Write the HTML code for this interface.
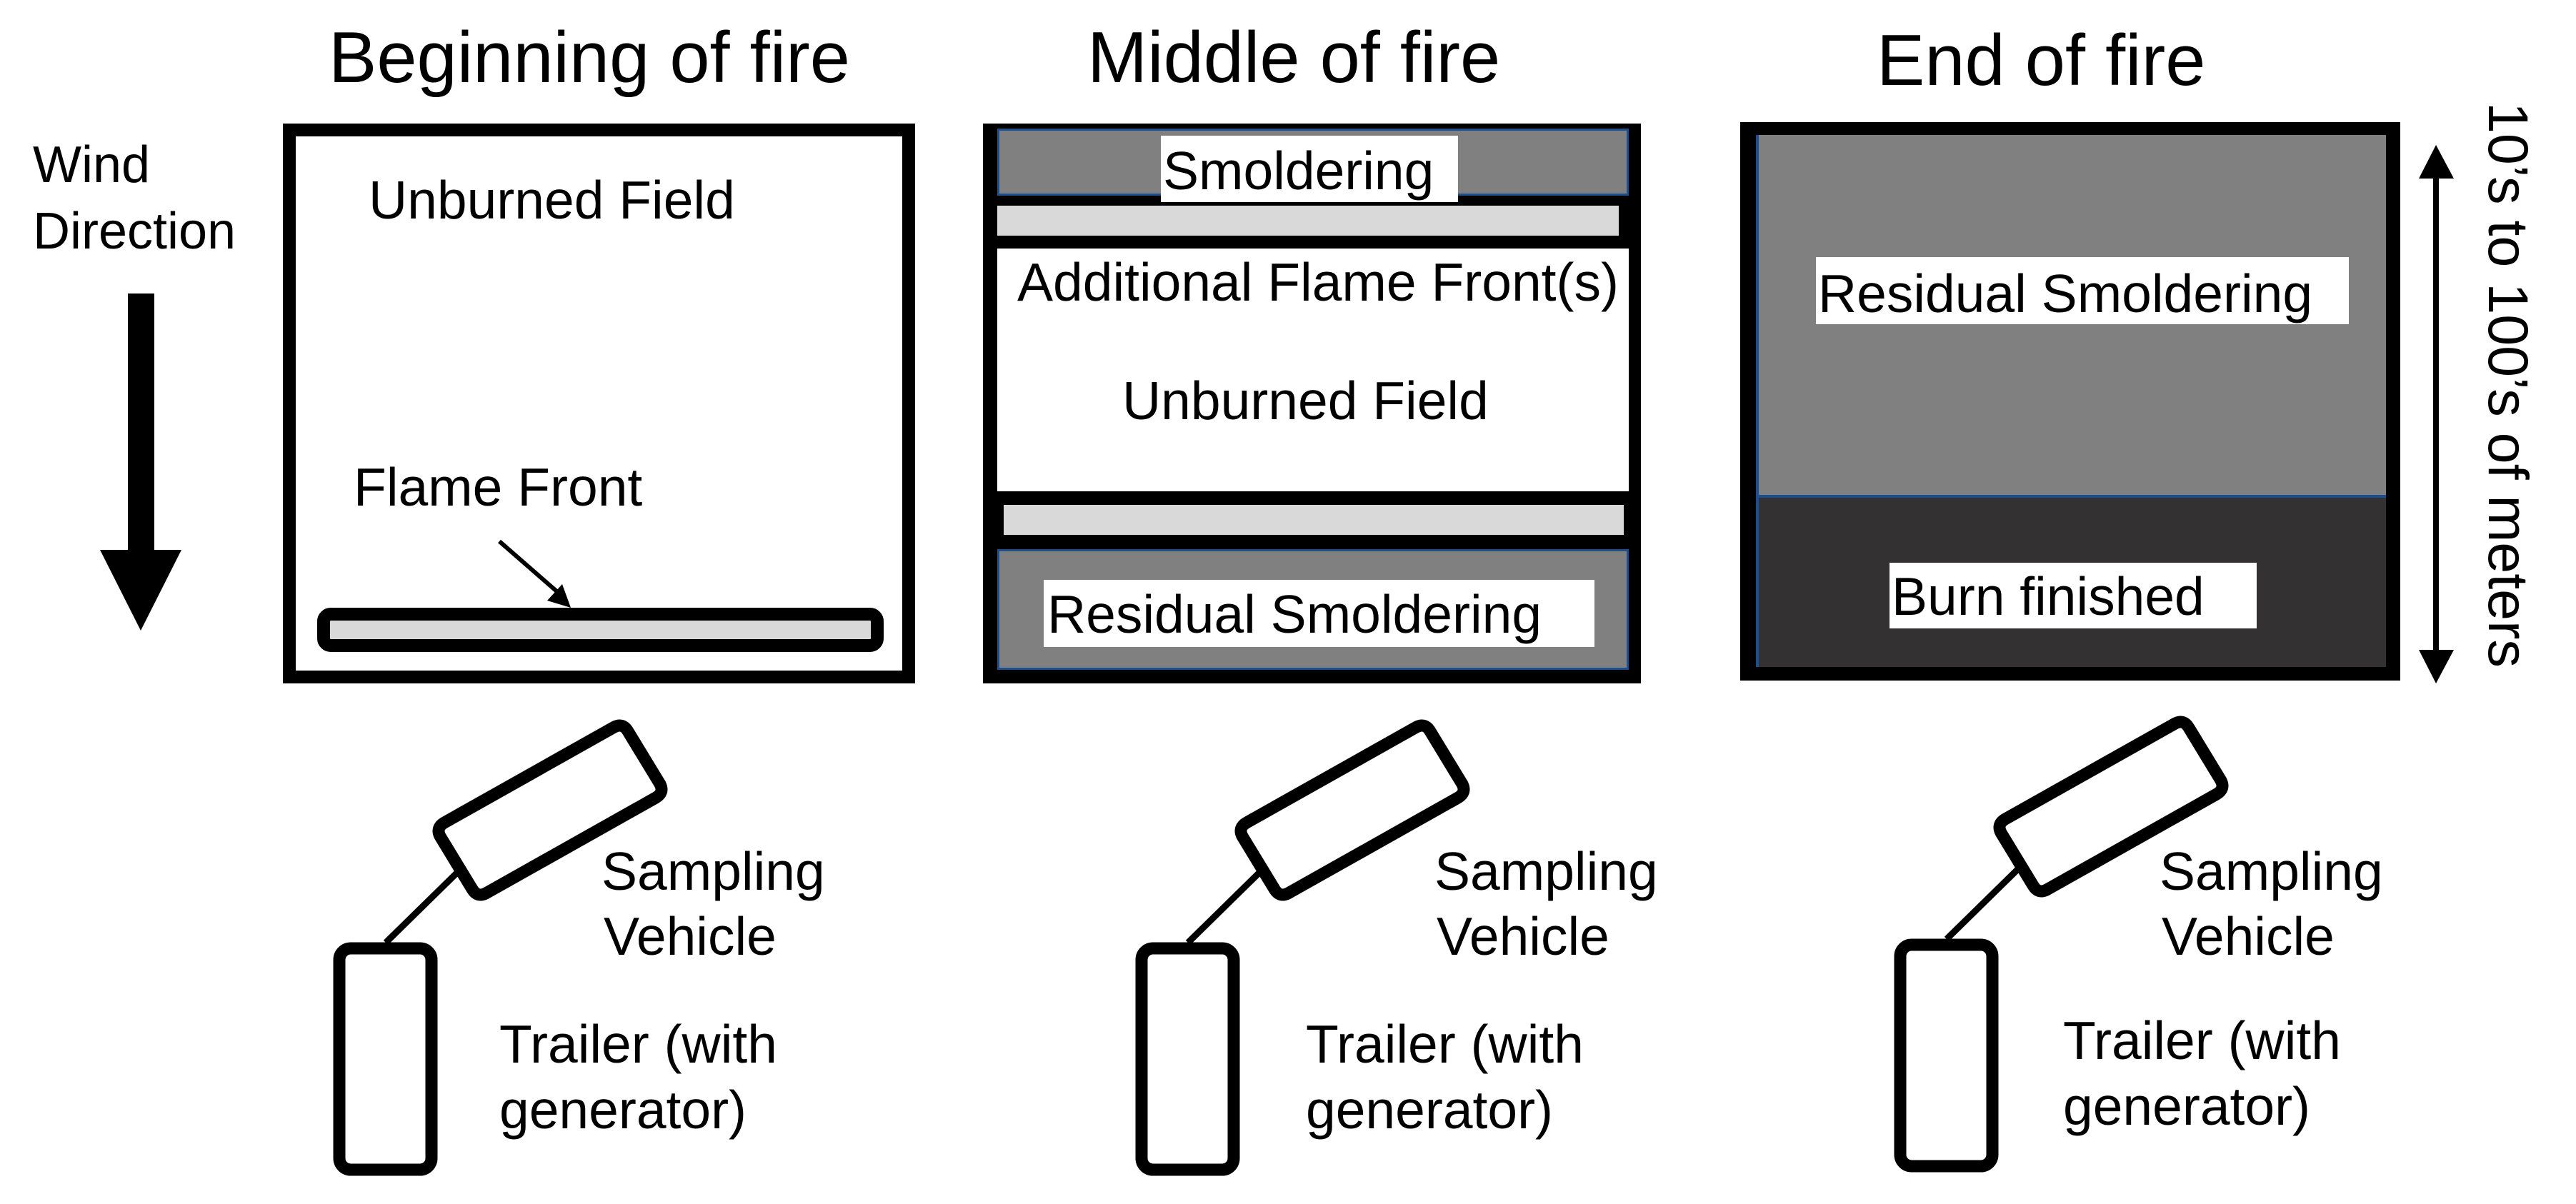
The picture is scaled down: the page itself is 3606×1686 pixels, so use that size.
<!DOCTYPE html>
<html><head><meta charset="utf-8"><style>
html,body{margin:0;padding:0;background:#fff;}
svg{display:block;}
text{font-family:"Liberation Sans",Arial,sans-serif;fill:#000;}
</style></head><body>
<svg width="3606" height="1686" viewBox="0 0 3606 1686" xmlns="http://www.w3.org/2000/svg">
<rect width="3606" height="1686" fill="#fff"/>
<!-- Titles -->
<text x="460" y="115" font-size="101">Beginning of fire</text>
<text x="1522" y="115" font-size="101">Middle of fire</text>
<text x="2627" y="119" font-size="101">End of fire</text>

<!-- Wind direction -->
<text x="46" y="255" font-size="72">Wind</text>
<text x="46" y="348" font-size="72">Direction</text>
<rect x="179" y="411" width="37" height="365" fill="#000"/>
<polygon points="140,770 254,770 197,883" fill="#000"/>

<!-- Panel 1 -->
<rect x="405" y="182" width="867" height="766" fill="#fff" stroke="#000" stroke-width="18"/>
<text x="516" y="306" font-size="75">Unburned Field</text>
<text x="495" y="708" font-size="75">Flame Front</text>
<line x1="699" y1="758" x2="785" y2="833" stroke="#000" stroke-width="6"/>
<polygon points="799,851 766,841 787,818" fill="#000"/>
<rect x="453" y="860" width="775" height="44" rx="10" fill="#d9d9d9" stroke="#000" stroke-width="18"/>

<!-- Panel 2 -->
<rect x="1376" y="173" width="921" height="784" fill="#000"/>
<rect x="1397.5" y="181.5" width="881" height="91" fill="#808080" stroke="#1f4e8c" stroke-width="3"/>
<rect x="1625" y="190" width="416" height="93" fill="#fff"/>
<text x="1628" y="265" font-size="75">Smoldering</text>
<rect x="1396" y="288" width="870" height="42" fill="#d9d9d9"/>
<rect x="1396" y="348" width="884" height="340" fill="#fff"/>
<text x="1424" y="421" font-size="75">Additional Flame Front(s)</text>
<text x="1571" y="587" font-size="75">Unburned Field</text>
<rect x="1405" y="707" width="868" height="42" fill="#d9d9d9"/>
<rect x="1397.5" y="770.5" width="881" height="166" fill="#808080" stroke="#1f4e8c" stroke-width="3"/>
<rect x="1461" y="812" width="771" height="94" fill="#fff"/>
<text x="1466" y="886" font-size="75">Residual Smoldering</text>

<!-- Panel 3 -->
<rect x="2436" y="171" width="924" height="782" fill="#000"/>
<rect x="2460" y="189" width="880" height="506" fill="#808080"/>
<rect x="2460" y="695" width="880" height="239" fill="#333132"/>
<rect x="2460" y="693" width="880" height="4" fill="#1f4e8c"/>
<rect x="2458" y="189" width="4" height="745" fill="#1f4e8c"/>
<rect x="2542" y="360" width="746" height="94" fill="#fff"/>
<text x="2545" y="437" font-size="75">Residual Smoldering</text>
<rect x="2645" y="788" width="514" height="92" fill="#fff"/>
<text x="2648" y="861" font-size="75">Burn finished</text>

<!-- Double arrow & vertical label -->
<line x1="3410" y1="240" x2="3410" y2="920" stroke="#000" stroke-width="8"/>
<polygon points="3410,203 3386,250 3435,250" fill="#000"/>
<polygon points="3410,957 3386,910 3435,910" fill="#000"/>
<text transform="translate(3484,143) rotate(90)" font-size="79">10’s to 100’s of meters</text>

<!-- Vehicles -->
<g>
<line x1="648" y1="1214" x2="540" y2="1320" stroke="#000" stroke-width="9"/>
<path d="M622,1152 L860,1018 Q872,1012 879,1024 L924,1098 Q930,1110 918,1117 L680,1251 Q668,1257 661,1245 L616,1171 Q610,1159 622,1152 Z" fill="#fff" stroke="#000" stroke-width="17" stroke-linejoin="round"/>
<rect x="475" y="1328" width="129" height="310" rx="16" fill="#fff" stroke="#000" stroke-width="17"/>
</g>
<text x="842" y="1246" font-size="75">Sampling</text>
<text x="845" y="1337" font-size="75">Vehicle</text>
<text x="699" y="1488" font-size="75">Trailer (with</text>
<text x="699" y="1580" font-size="75">generator)</text>

<g transform="translate(1123,0)">
<line x1="648" y1="1214" x2="540" y2="1320" stroke="#000" stroke-width="9"/>
<path d="M622,1152 L860,1018 Q872,1012 879,1024 L924,1098 Q930,1110 918,1117 L680,1251 Q668,1257 661,1245 L616,1171 Q610,1159 622,1152 Z" fill="#fff" stroke="#000" stroke-width="17" stroke-linejoin="round"/>
<rect x="475" y="1328" width="129" height="310" rx="16" fill="#fff" stroke="#000" stroke-width="17"/>
<text x="885" y="1246" font-size="75">Sampling</text>
<text x="888" y="1337" font-size="75">Vehicle</text>
<text x="705" y="1488" font-size="75">Trailer (with</text>
<text x="705" y="1580" font-size="75">generator)</text>
</g>

<g transform="translate(2185,-5)">
<line x1="648" y1="1214" x2="540" y2="1320" stroke="#000" stroke-width="9"/>
<path d="M622,1152 L860,1018 Q872,1012 879,1024 L924,1098 Q930,1110 918,1117 L680,1251 Q668,1257 661,1245 L616,1171 Q610,1159 622,1152 Z" fill="#fff" stroke="#000" stroke-width="17" stroke-linejoin="round"/>
<rect x="475" y="1328" width="129" height="310" rx="16" fill="#fff" stroke="#000" stroke-width="17"/>
<text x="838" y="1251" font-size="75">Sampling</text>
<text x="841" y="1342" font-size="75">Vehicle</text>
<text x="703" y="1488" font-size="75">Trailer (with</text>
<text x="703" y="1580" font-size="75">generator)</text>
</g>
</svg>
</body></html>
